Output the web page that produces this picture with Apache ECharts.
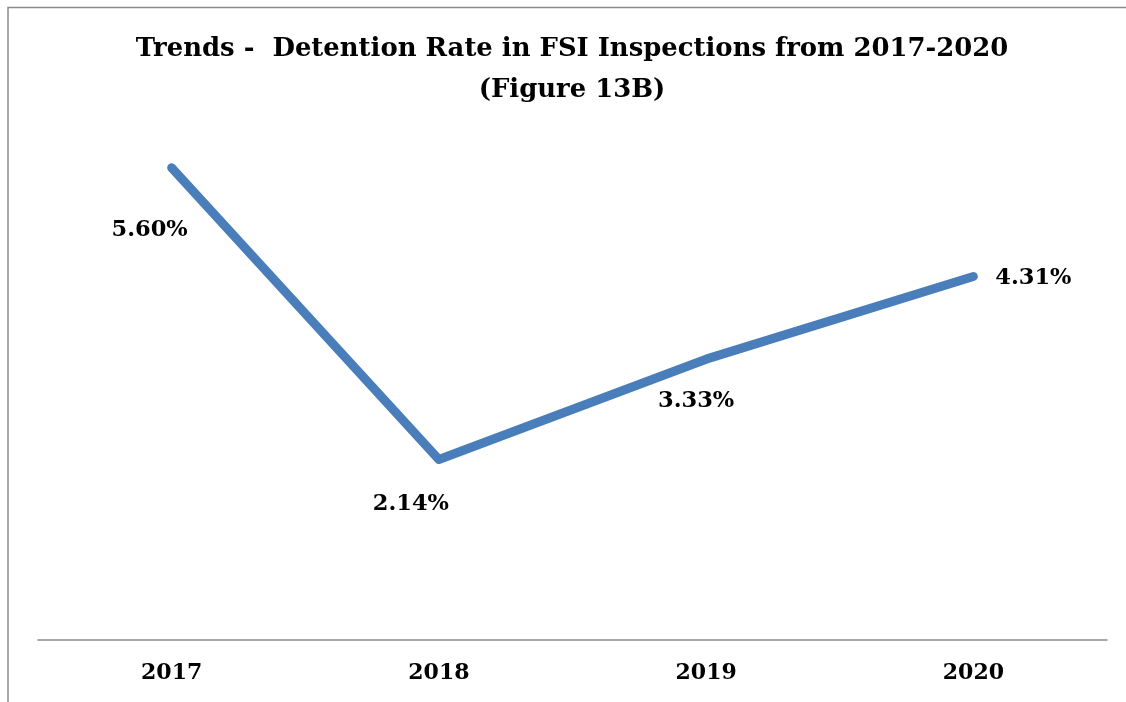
<!DOCTYPE html>
<html>
<head>
<meta charset="utf-8">
<script src="https://cdn.jsdelivr.net/npm/echarts@6/dist/echarts.min.js"></script>
<style>
  html, body { margin: 0; padding: 0; background: #ffffff; }
  #chart { width: 1126px; height: 702px; }
</style>
</head>
<body>
<div id="chart"></div>
<script>
// Detention rate in FSI inspections, by year (percent)
const years = ['2017', '2018', '2019', '2020'];
const detentionRate = [5.60, 2.14, 3.33, 4.31];
// where each value label sits relative to its point
const labelOffsets = [[-22, 62], [-28, 45], [-10, 42], [60, 2]];

const FONT = '"DejaVu Serif", "Liberation Serif", serif';

const chart = echarts.init(document.getElementById('chart'), null, { renderer: 'canvas' });

chart.setOption({
  backgroundColor: '#ffffff',
  animation: false,
  title: {
    text: 'Trends -  Detention Rate in FSI Inspections from 2017-2020\n(Figure 13B)',
    left: 567,
    top: 24,
    textAlign: 'center',
    textStyle: {
      fontFamily: FONT,
      fontWeight: 'bold',
      fontSize: 25.9,
      lineHeight: 41,
      color: '#000000'
    }
  },
  graphic: [{
    type: 'polyline',
    silent: true,
    shape: { points: [[8, 702], [8, 7.5], [1126, 7.5]] },
    style: { stroke: '#8a8a8a', lineWidth: 1.5, fill: null }
  }],
  grid: { left: 38, right: 19, top: 134, bottom: 62 },
  xAxis: {
    type: 'category',
    data: years,
    boundaryGap: true,
    axisLine: { lineStyle: { color: '#8a8a8a', width: 1.5 } },
    axisTick: { show: false },
    axisLabel: {
      margin: 22,
      fontFamily: FONT,
      fontWeight: 'bold',
      fontSize: 22,
      color: '#000000'
    }
  },
  yAxis: {
    type: 'value',
    min: 0,
    max: 6,
    show: false,
    splitLine: { show: false }
  },
  series: [{
    type: 'line',
    data: detentionRate.map((v, i) => ({
      value: v,
      label: { offset: labelOffsets[i] }
    })),
    symbol: 'circle',
    symbolSize: 1,
    itemStyle: { color: '#4a7ebb' },
    lineStyle: { color: '#4a7ebb', width: 9, cap: 'round', join: 'round' },
    label: {
      show: true,
      position: 'inside',
      formatter: p => p.value.toFixed(2) + '%',
      fontFamily: FONT,
      fontWeight: 'bold',
      fontSize: 22.5,
      color: '#000000'
    }
  }]
});
</script>
</body>
</html>
